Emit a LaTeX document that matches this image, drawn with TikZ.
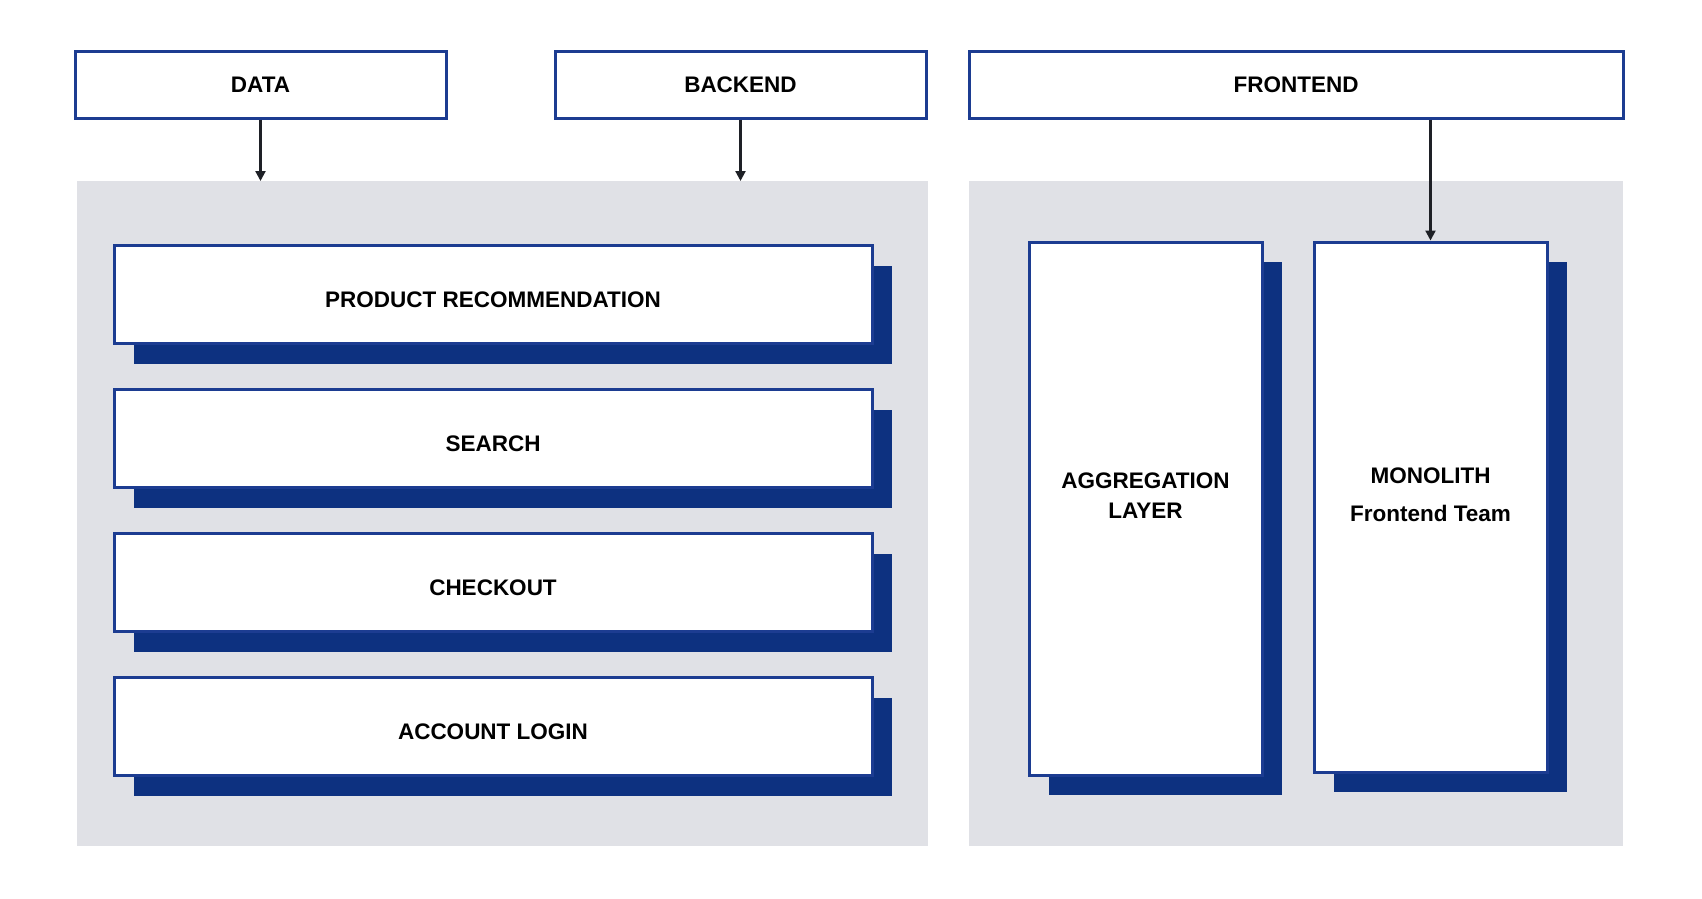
\documentclass[tikz,border=0pt]{standalone}
\usepackage{fontspec}
\setmainfont{Liberation Sans}
\usetikzlibrary{shadows,arrows.meta}
\definecolor{bordblue}{RGB}{28,60,145}
\definecolor{shadblue}{RGB}{13,49,128}
\definecolor{panelgray}{RGB}{224,225,230}
\definecolor{arrowc}{RGB}{30,32,38}
\tikzset{
  header/.style={draw=bordblue, line width=3pt, fill=white, minimum height=67pt,
    font=\fontsize{22.5}{27}\selectfont\bfseries, inner sep=0pt},
  svcbox/.style={draw=bordblue, line width=3pt, fill=white,
    font=\fontsize{22.5}{30}\selectfont\bfseries, inner sep=0pt, align=center,
    general shadow={fill=shadblue, shadow xshift=20pt, shadow yshift=-20pt}},
  rowbox/.style={svcbox, minimum width=758pt, minimum height=98pt, text height=25pt, text depth=0pt},
  svctext/.style={font=\fontsize{22.5}{30}\selectfont\bfseries, inner sep=0pt, align=center},
  panel/.style={fill=panelgray},
  conn/.style={draw=arrowc, line width=2.2pt, -{Triangle[length=10pt,width=10pt]}}
}
\begin{document}
\begin{tikzpicture}[x=1pt,y=-1pt]
\useasboundingbox (0,0) rectangle (1702,898);
\fill[white] (0,0) rectangle (1702,898);
% panels
\fill[panel] (77,181) rectangle (928,846);
\fill[panel] (969,181) rectangle (1623,846);
\coordinate (pantopL) at (0,181);
% headers
\node[header, minimum width=371pt] (data) at (260.5,84.5) {DATA};
\node[header, minimum width=371pt] (backend) at (740.5,84.5) {BACKEND};
\node[header, minimum width=654pt] (frontend) at (1296,84.5) {FRONTEND};
% service boxes
\node[rowbox] (prod) at (493,294.5) {PRODUCT RECOMMENDATION};
\node[rowbox] (search) at (493,438.5) {SEARCH};
\node[rowbox] (checkout) at (493,582.5) {CHECKOUT};
\node[rowbox] (login) at (493,726.5) {ACCOUNT LOGIN};
\node[svcbox, minimum width=233pt, minimum height=533pt] (agg) at (1145.5,508.5) {};
\node[svctext] (aggtext) at ([yshift=13pt]agg.center) {AGGREGATION\\LAYER};
\node[svcbox, minimum width=233pt, minimum height=530pt] (mono) at (1430.5,507) {};
\node[svctext] (monotext) at ([yshift=12pt]mono.center) {MONOLITH\\[8pt]Frontend Team};
% connectors
\coordinate (dataend) at (data.south |- pantopL);
\coordinate (backend_end) at (backend.south |- pantopL);
\draw[conn] (data.south) -- (dataend);
\draw[conn] (backend.south) -- (backend_end);
\draw[conn] (frontend.south -| mono.north) -- (mono.north);
\end{tikzpicture}
\end{document}
